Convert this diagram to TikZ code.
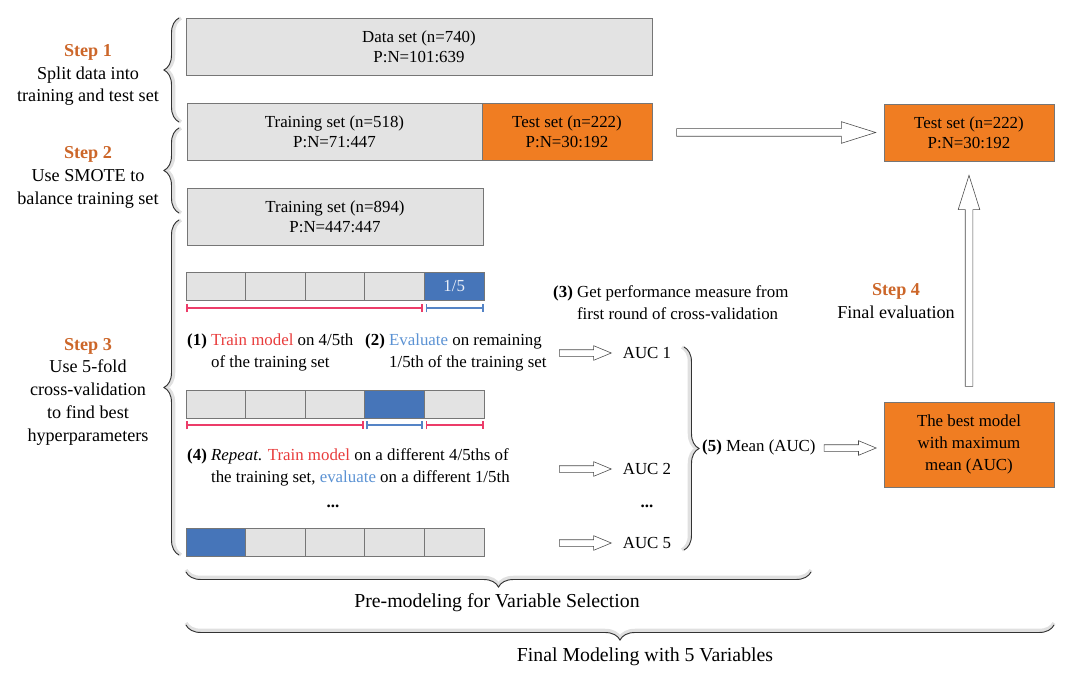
\documentclass[tikz,border=0pt]{standalone}
\usepackage{fontspec}
\setmainfont{Liberation Serif}
\usetikzlibrary{arrows.meta,calc,positioning,shapes.arrows,decorations.pathreplacing}

\definecolor{boxgray}{RGB}{227,227,227}
\definecolor{boxline}{RGB}{118,118,118}
\definecolor{testorange}{RGB}{240,125,34}
\definecolor{steporange}{RGB}{204,102,41}
\definecolor{foldblue}{RGB}{70,117,185}
\definecolor{trainred}{RGB}{232,60,60}
\definecolor{evalblue}{RGB}{91,146,211}
\definecolor{redbar}{RGB}{236,60,105}
\definecolor{bluebar}{RGB}{85,132,198}

\newcommand{\stp}[1]{\textcolor{steporange}{\textbf{Step #1}}}
\newcommand{\trn}{\textcolor{trainred}{Train model}}
\newcommand{\evl}[1]{\textcolor{evalblue}{#1}}

\tikzset{
  setbox/.style={draw=boxline, fill=boxgray, line width=0.6pt, inner sep=0pt, align=center,
    minimum height=1.71cm, font=\fontsize{14.4}{17}\selectfont},
  testbox/.style={setbox, fill=testorange},
  cell/.style={draw=boxline, line width=0.6pt, minimum width=1.788cm, minimum height=0.84cm, inner sep=0pt},
  fatarrow/.style={single arrow, draw=black!70, fill=white, line width=0.5pt, inner xsep=0pt,
    inner ysep=0.105cm, single arrow head extend=0.21cm, single arrow tip angle=35},
  thinarrow/.style={fatarrow, inner ysep=0.09cm, single arrow head extend=0.12cm,
    single arrow tip angle=45, minimum height=1.56cm},
  bracegray/.style={decorate, decoration={brace, amplitude=0.45cm}, draw=black!12, line width=3pt},
  braceline/.style={decorate, decoration={brace, amplitude=0.45cm}, draw=black!80, line width=0.8pt},
  trainbar/.style={draw=redbar, line width=1.6pt, {Bar[width=7pt]}-{Bar[width=7pt]}},
  evalbar/.style={trainbar, draw=bluebar},
  note/.style={anchor=west, align=left, inner sep=0pt},
  steptext/.style={align=center, font=\fontsize{15.5}{19.4}\selectfont},
  modeltext/.style={font=\fontsize{16.9}{20}\selectfont}
}

\begin{document}
\begin{tikzpicture}[x=0.03cm, y=-0.03cm, font=\fontsize{14.4}{19}\selectfont]
\useasboundingbox (0,0) rectangle (1080,678);

% data sets
\node[setbox, minimum width=13.98cm] (data) at (419,46.5) {Data set (n=740)\\P:N=101:639};
\node[setbox, minimum width=8.85cm] (train) at (334.5,131.5) {Training set (n=518)\\P:N=71:447};
\node[testbox, minimum width=5.1cm, right=-0.6pt of train] (test) {Test set (n=222)\\P:N=30:192};
\node[setbox, minimum width=8.88cm] (smote) at (335,216.5) {Training set (n=894)\\P:N=447:447};
\node[testbox, minimum width=5.1cm] (testR) at (969,132.5) {Test set (n=222)\\P:N=30:192};
\node[testbox, minimum width=5.1cm, minimum height=2.55cm, font=\fontsize{14.4}{19}\selectfont]
  (best) at (969,444.5) {The best model\\with maximum\\mean (AUC)};

% big arrows
\node[fatarrow, minimum height=5.97cm, anchor=tail] (toTestR) at ($(test.east)+(24,1)$) {};
\node[fatarrow, minimum height=6.33cm, anchor=tail, rotate=90] (up) at ($(best.north)+(0,-15)$) {};

% steps
\node[steptext] (s1) at (88,75) {\stp{1}\\Split data into\\training and test set};
\node[steptext] (s2) at (88,177.5) {\stp{2}\\Use SMOTE to\\balance training set};
\node[steptext] (s3) at (88,391.5) {\stp{3}\\Use 5-fold\\cross-validation\\to find best\\hyperparameters};
\node[steptext] (s4) at (896,301) {\stp{4}\\Final evaluation};

\draw[bracegray] (181,122) -- (181,18);
\draw[braceline] (179,122) -- (179,18);
\draw[bracegray] (181,213) -- (181,128);
\draw[braceline] (179,213) -- (179,128);
\draw[bracegray] (181,555) -- (181,220);
\draw[braceline] (179,555) -- (179,220);

% folds
\foreach \r/\y/\b in {a/286/4, b/404/3, c/542/0}{
  \foreach \i in {0,...,4}{
    \ifnum\i=\b \def\cc{foldblue}\else\def\cc{boxgray}\fi
    \node[cell, fill=\cc] (\r\i) at (215.8+59.6*\i,\y) {};
  }
}
\node[text=white!88!foldblue] (fifth) at (a4) {1/5};

\draw[trainbar] ($(a0.south west)+(0,8)$) -- ($(a3.south east)+(-1.5,8)$);
\draw[evalbar] ($(a4.south west)+(1.5,8)$) -- ($(a4.south east)+(0,8)$);
\draw[trainbar] ($(b0.south west)+(0,7)$) -- ($(b2.south east)+(-1.5,7)$);
\draw[evalbar] ($(b3.south west)+(1.5,7)$) -- ($(b3.south east)+(-1.5,7)$);
\draw[trainbar] ($(b4.south west)+(1.5,7)$) -- ($(b4.south east)+(0,7)$);

% notes
\node[note] (one) at (187,352.5) {\textbf{(1)} \trn{} on 4/5th\\\phantom{\textbf{(1)}\ }of the training set};
\node[note] (two) at (365,352.5) {\textbf{(2)} \evl{Evaluate} on remaining\\\phantom{\textbf{(2)}\ }1/5th of the training set};
\node[note] (three) at (553,304) {\textbf{(3)} Get performance measure from\\\phantom{\textbf{(3)}\ }first round of cross-validation};
\node[note] (four) at (187,467.5) {\textbf{(4)} \textit{Repeat}. \trn{} on a different 4/5ths of\\\phantom{\textbf{(4)}\ }the training set, \evl{evaluate} on a different 1/5th};
\node (dots) at (333,506) {\textbf{...}};

% AUC
\node (auc1) at (647,353) {AUC 1};
\node (auc2) at (647,469) {AUC 2};
\node (aucdots) at (647,506) {\textbf{...}};
\node (auc5) at (647,543) {AUC 5};
\node[thinarrow, anchor=tail] (arr1) at (559,353) {};
\node[thinarrow, anchor=tail] (arr2) at (559,469) {};
\node[thinarrow, anchor=tail] (arr5) at (559,543) {};

\draw[bracegray] (682,347) -- (682,550);
\draw[braceline] (684,347) -- (684,550);
\node[note] (mean) at (702,447) {\textbf{(5)} Mean (AUC)};
\node[thinarrow, anchor=tail] (toBest) at ($(mean.east)+(8,1)$) {};

% bottom braces
\draw[bracegray] (811,570) -- (186,570);
\draw[braceline] (811,572) -- (186,572);
\node[modeltext] (pre) at (497,603) {Pre-modeling for Variable Selection};
\draw[bracegray] (1054,623) -- (186,623);
\draw[braceline] (1054,625) -- (186,625);
\node[modeltext] (final) at (645,657) {Final Modeling with 5 Variables};
\end{tikzpicture}
\end{document}
